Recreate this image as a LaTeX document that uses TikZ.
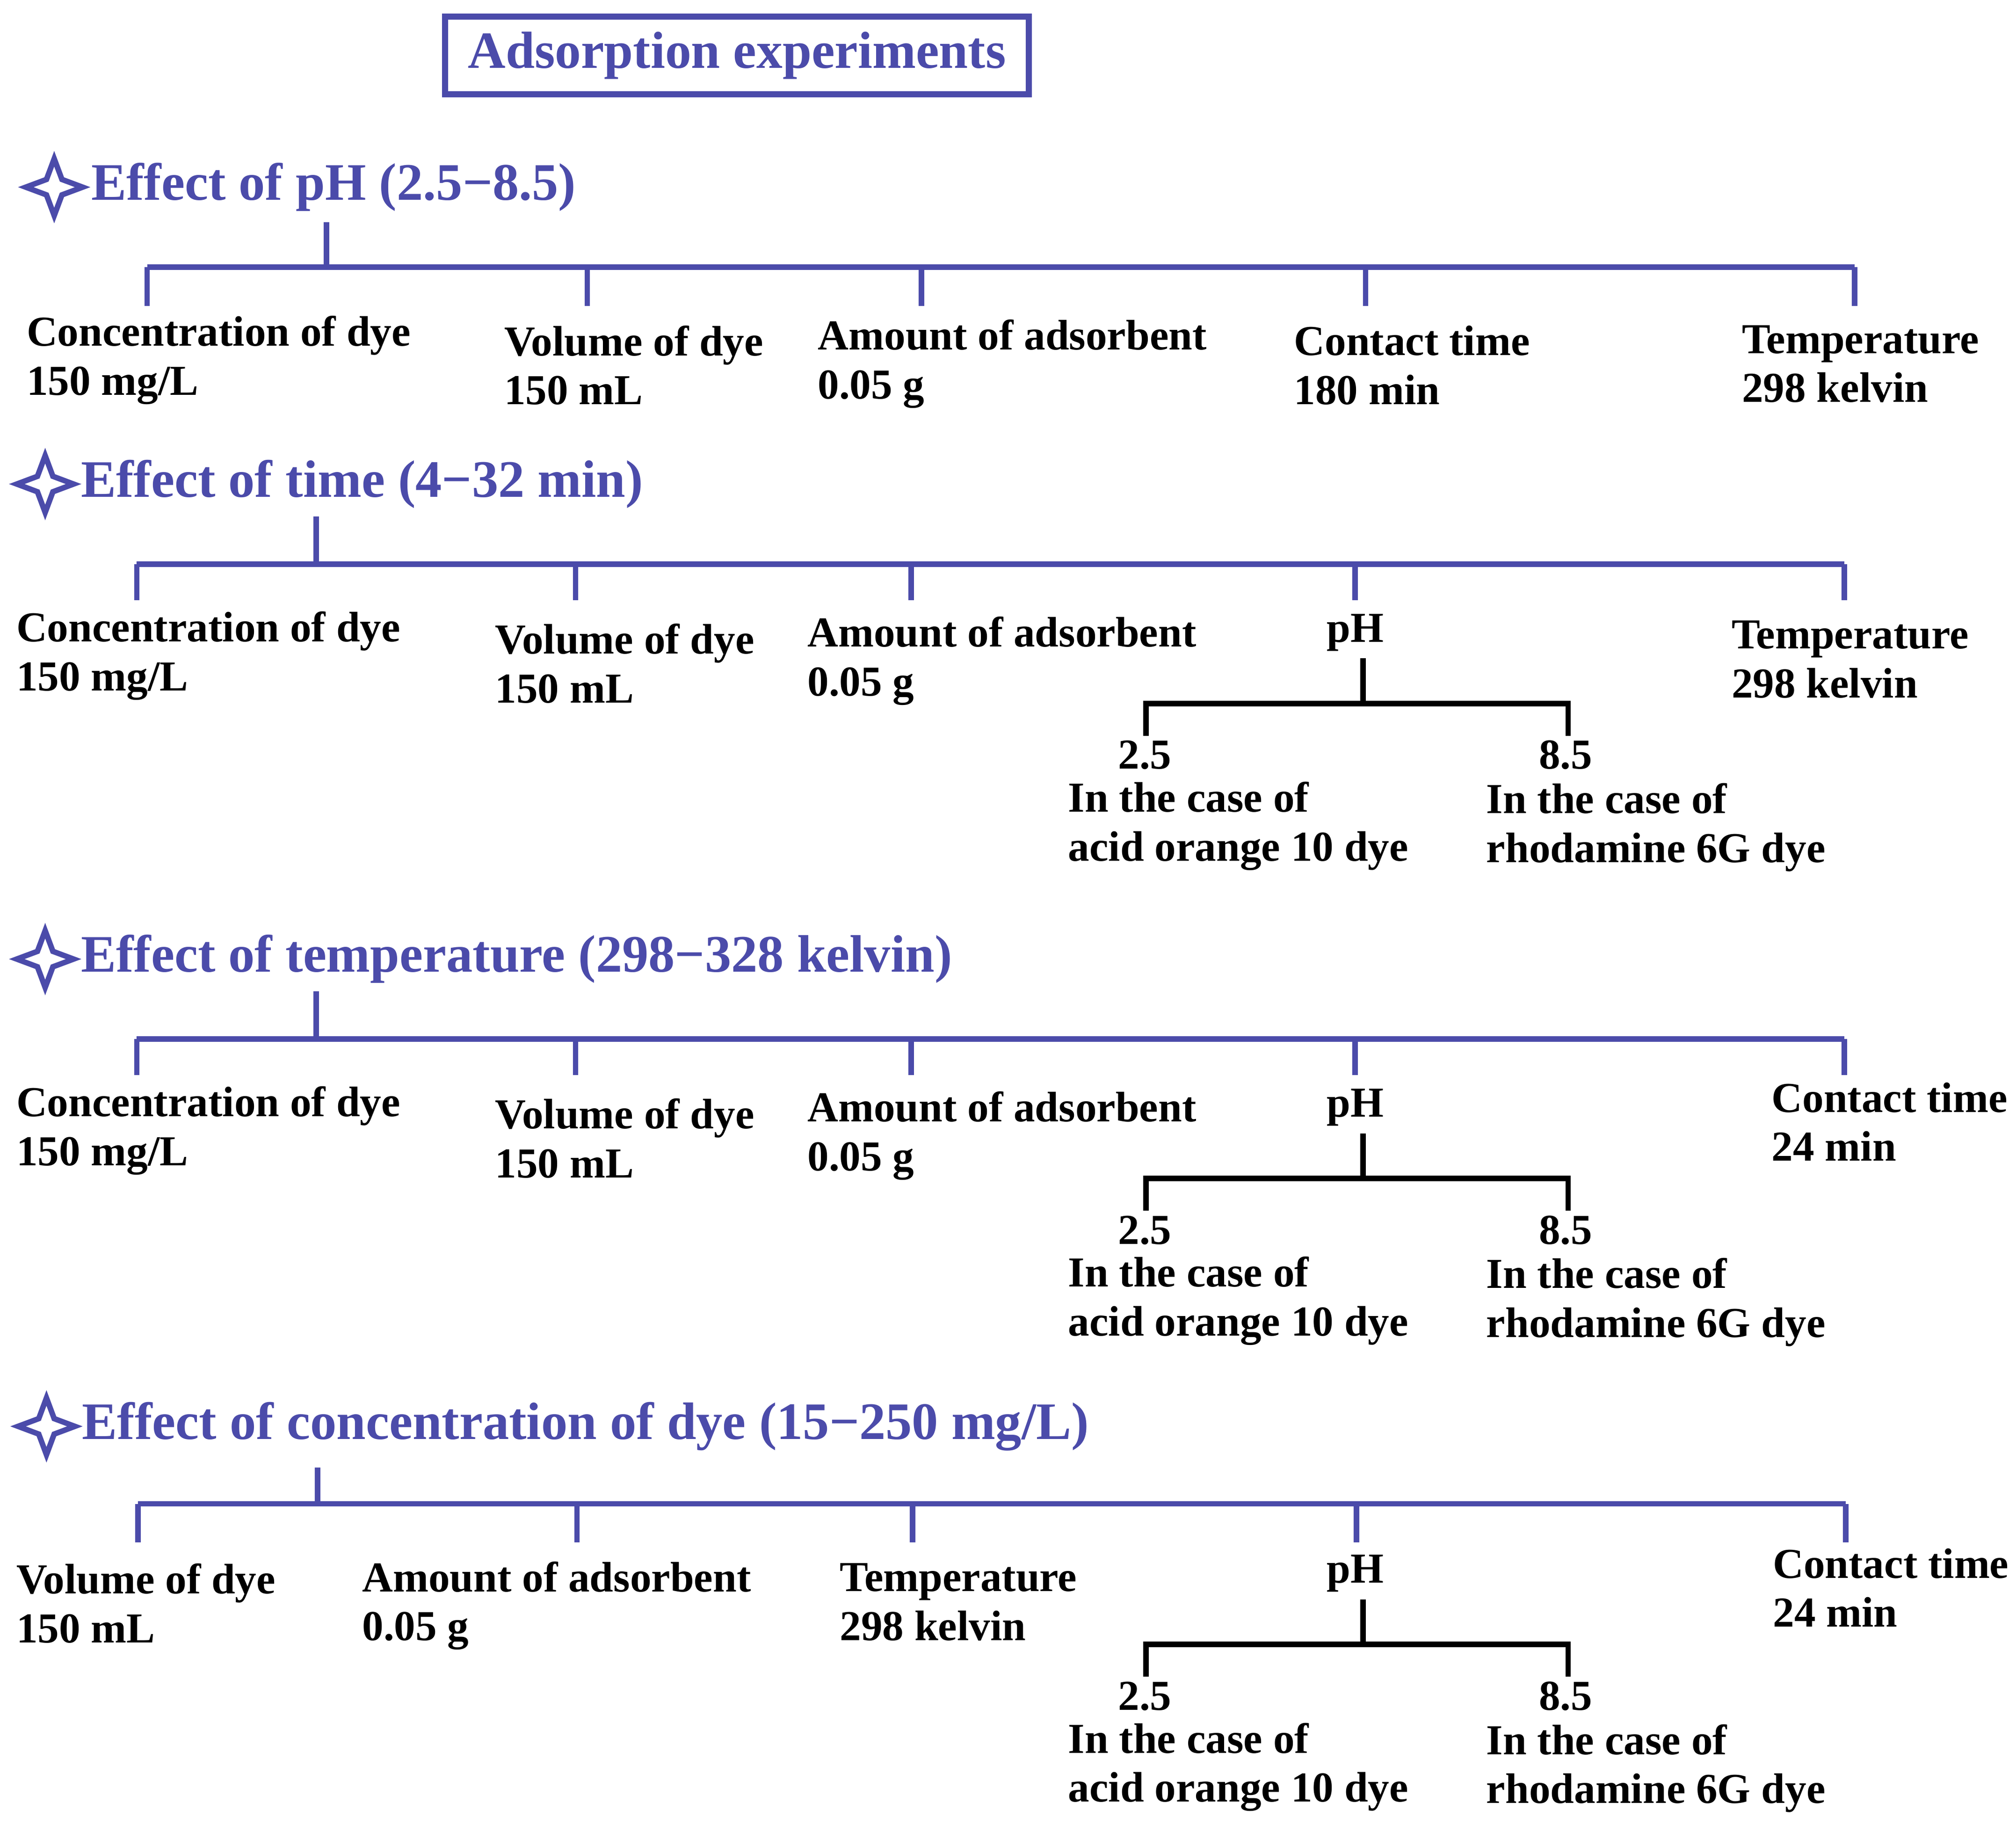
\documentclass[tikz,border=0pt]{standalone}
\usepackage{fontspec}
\setmainfont{Liberation Serif}
\usetikzlibrary{shapes.geometric}
\definecolor{expblue}{HTML}{4B4BAA}
\tikzset{
  head/.style = {font=\fontsize{11.6}{13}\selectfont\bfseries, text=expblue, anchor=west, inner sep=0pt},
  lbl/.style  = {font=\fontsize{9.4}{10.8}\selectfont\bfseries, align=left, anchor=west, inner sep=0pt},
  tree/.style = {draw=expblue, line width=1.2pt},
  sub/.style  = {draw=black, line width=1.2pt},
  spark/.style = {star, star points=4, star point ratio=2.6, draw=expblue, line width=1.2pt,
                  minimum size=0.44cm, inner sep=0pt}
}
% pH subtree: #1 = prefix, #2 = vertical offset
\newcommand{\phbranch}[2]{%
  \begin{scope}[shift={(0,#2)}]
    \node[lbl, anchor=center] (#1ph) at (1050,490) {pH};
    \coordinate (#1top) at (1056,510);
    \coordinate (#1mid) at (1056,545);
    \coordinate (#1l) at (888,545);  \coordinate (#1r) at (1215,545);
    \coordinate (#1ld) at (888,570); \coordinate (#1rd) at (1215,570);
    \draw[sub] (#1top) -- (#1mid);
    \draw[sub] (#1ld) -- (#1l) -- (#1r) -- (#1rd);
    \node[lbl, anchor=center] (#1lo) at (887,585) {2.5};
    \node[lbl, anchor=center] (#1hi) at (1213,585) {8.5};
    \node[lbl] (#1ao) at (827,640) {In the case of\\acid orange 10 dye};
    \node[lbl] (#1rh) at (1151,641) {In the case of\\rhodamine 6G dye};
  \end{scope}}
\begin{document}
\begin{tikzpicture}[x=0.01cm, y=-0.01cm]
\useasboundingbox (0,0) rectangle (1562,1413);

\node[draw=expblue, line width=1.4pt, minimum width=4.52cm, minimum height=0.59cm,
      font=\fontsize{11.5}{13}\selectfont\bfseries, text=expblue] (title) at (571,43) {Adsorption experiments};

% effect of pH
\node[spark] (s1) at (42,145) {};
\node[head] (h1) at (70,145) {Effect of pH (2.5−8.5)};
\coordinate (t1) at (253,172); \coordinate (j1) at (253,207);
\draw[tree] (t1) -- (j1);
\foreach \x/\n in {114/a,455/b,714/c,1058/d,1437/e}{
  \coordinate (p1\n) at (\x,207); \coordinate (q1\n) at (\x,237);
  \draw[tree] (p1\n) -- (q1\n);}
\draw[tree] (p1a) -- (p1e);
\node[lbl] (c1) at (20,279)  {Concentration of dye\\150 mg/L};
\node[lbl] (v1) at (390,283) {Volume of dye\\150 mL};
\node[lbl] (a1) at (633,282) {Amount of adsorbent\\0.05 g};
\node[lbl] (k1) at (1002,283) {Contact time\\180 min};
\node[lbl] (T1) at (1349,282) {Temperature\\298 kelvin};

% effect of time
\node[spark] (s2) at (35,375) {};
\node[head] (h2) at (62,375) {Effect of time (4−32 min)};
\coordinate (t2) at (245,400); \coordinate (j2) at (245,437);
\draw[tree] (t2) -- (j2);
\foreach \x/\n in {106/a,446/b,706/c,1050/d,1429/e}{
  \coordinate (p2\n) at (\x,437); \coordinate (q2\n) at (\x,465);
  \draw[tree] (p2\n) -- (q2\n);}
\draw[tree] (p2a) -- (p2e);
\node[lbl] (c2) at (12,508)  {Concentration of dye\\150 mg/L};
\node[lbl] (v2) at (383,514) {Volume of dye\\150 mL};
\node[lbl] (a2) at (625,512) {Amount of adsorbent\\0.05 g};
\node[lbl] (T2) at (1341,511) {Temperature\\298 kelvin};
\phbranch{b2}{0}

% effect of temperature
\node[spark] (s3) at (35,743) {};
\node[head] (h3) at (62,743) {Effect of temperature (298−328 kelvin)};
\coordinate (t3) at (245,768); \coordinate (j3) at (245,805);
\draw[tree] (t3) -- (j3);
\foreach \x/\n in {106/a,446/b,706/c,1050/d,1429/e}{
  \coordinate (p3\n) at (\x,805); \coordinate (q3\n) at (\x,833);
  \draw[tree] (p3\n) -- (q3\n);}
\draw[tree] (p3a) -- (p3e);
\node[lbl] (c3) at (12,876)  {Concentration of dye\\150 mg/L};
\node[lbl] (v3) at (383,882) {Volume of dye\\150 mL};
\node[lbl] (a3) at (625,880) {Amount of adsorbent\\0.05 g};
\node[lbl] (k3) at (1372,869) {Contact time\\24 min};
\phbranch{b3}{368}

% effect of concentration
\node[spark] (s4) at (36,1105) {};
\node[head] (h4) at (63,1105) {Effect of concentration of dye (15−250 mg/L)};
\coordinate (t4) at (246,1137); \coordinate (j4) at (246,1165);
\draw[tree] (t4) -- (j4);
\foreach \x/\n in {107/a,447/b,707/c,1051/d,1430/e}{
  \coordinate (p4\n) at (\x,1165); \coordinate (q4\n) at (\x,1195);
  \draw[tree] (p4\n) -- (q4\n);}
\draw[tree] (p4a) -- (p4e);
\node[lbl] (v4) at (12,1242)  {Volume of dye\\150 mL};
\node[lbl] (a4) at (280,1244) {Amount of adsorbent\\0.05 g};
\node[lbl] (T4) at (650,1241) {Temperature\\298 kelvin};
\node[lbl] (k4) at (1373,1230) {Contact time\\24 min};
\phbranch{b4}{729}
\end{tikzpicture}
\end{document}
